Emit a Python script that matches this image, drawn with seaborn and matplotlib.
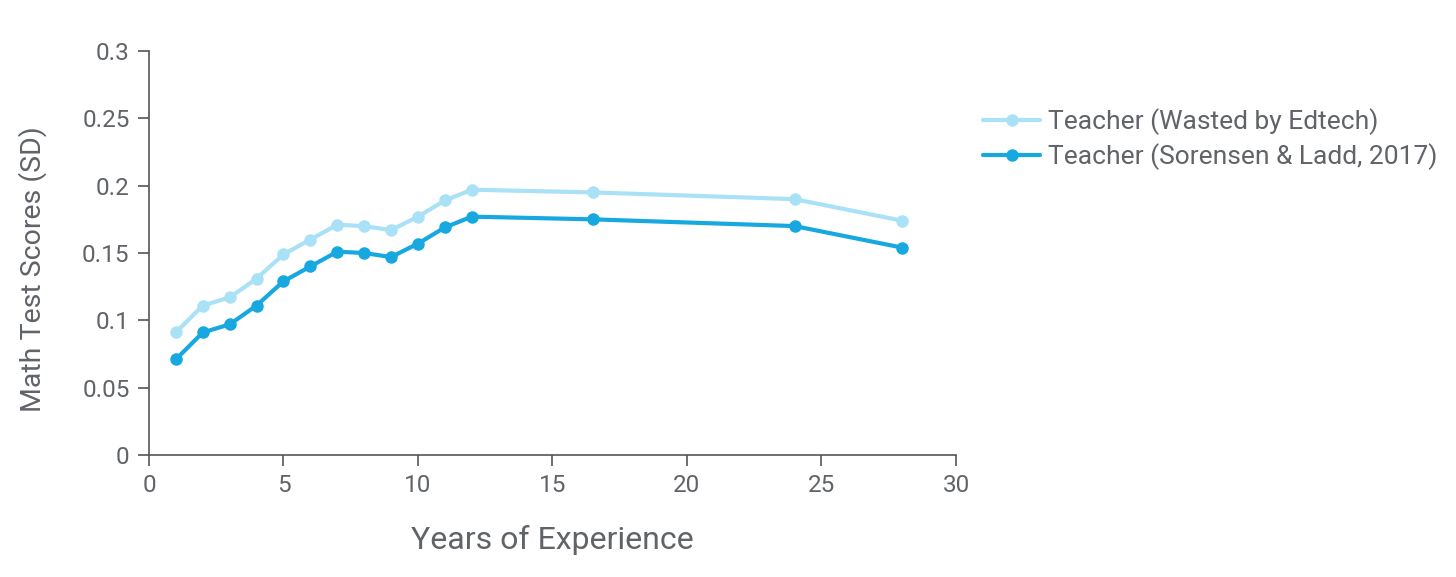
import numpy as np
import pandas as pd
import matplotlib
matplotlib.use("Agg")
import matplotlib.pyplot as plt
from matplotlib.ticker import FuncFormatter
import seaborn as sns

# Data
years = [1, 2, 3, 4, 5, 6, 7, 8, 9, 10, 11, 12, 16.5, 24, 28]
wasted = [0.091, 0.111, 0.117, 0.131, 0.149, 0.160, 0.171, 0.170, 0.167,
          0.177, 0.189, 0.197, 0.195, 0.190, 0.174]
sorensen = [0.071, 0.091, 0.097, 0.111, 0.129, 0.140, 0.151, 0.150, 0.147,
            0.157, 0.169, 0.177, 0.175, 0.170, 0.154]
series_names = ["Teacher (Wasted by Edtech)", "Teacher (Sorensen & Ladd, 2017)"]
x_ticks = [0, 5, 10, 15, 20, 25, 30]
y_ticks = [0, 0.05, 0.1, 0.15, 0.2, 0.25, 0.3]

df = pd.concat([
    pd.DataFrame({"years": years, "score": wasted, "series": series_names[0]}),
    pd.DataFrame({"years": years, "score": sorensen, "series": series_names[1]}),
])

sns.set_style("ticks")
plt.rcParams["font.family"] = ["Roboto", "DejaVu Sans"]
text_color = "#606368"
axis_color = "#555555"

fig = plt.figure(figsize=(14.56, 5.77), dpi=100)
ax = fig.add_axes([0.1023, 0.2114, 0.5543, 0.7002])

sns.lineplot(data=df, x="years", y="score", hue="series",
             palette=["#a9e2f6", "#17a8e0"], marker="o", markersize=9,
             markeredgewidth=0, linewidth=3, ax=ax)

ax.set_xlim(0, 30)
ax.set_ylim(0, 0.3)
ax.set_xticks(x_ticks)
ax.set_yticks(y_ticks)
ax.yaxis.set_major_formatter(FuncFormatter(lambda v, p: f"{v:g}"))

ax.set_xlabel("Years of Experience", fontsize=23, color=text_color, labelpad=20)
ax.set_ylabel("Math Test Scores (SD)", fontsize=20.5, color=text_color, labelpad=25)
ax.yaxis.label.set_y(0.46)
ax.tick_params(axis="both", labelsize=17.5, colors=axis_color, labelcolor=text_color,
               length=8, width=1.2, direction="out", pad=6)
for side in ["left", "bottom"]:
    ax.spines[side].set_color(axis_color)
    ax.spines[side].set_linewidth(1.2)
sns.despine(ax=ax)

handles, labels = ax.get_legend_handles_labels()
ax.legend(handles, labels, loc="center left", bbox_to_anchor=(0.659, 0.759),
          bbox_transform=fig.transFigure, frameon=False, fontsize=19,
          labelcolor=text_color, handlelength=2.15, handletextpad=0.3,
          labelspacing=0.3)

fig.savefig("out.png", dpi=100)
